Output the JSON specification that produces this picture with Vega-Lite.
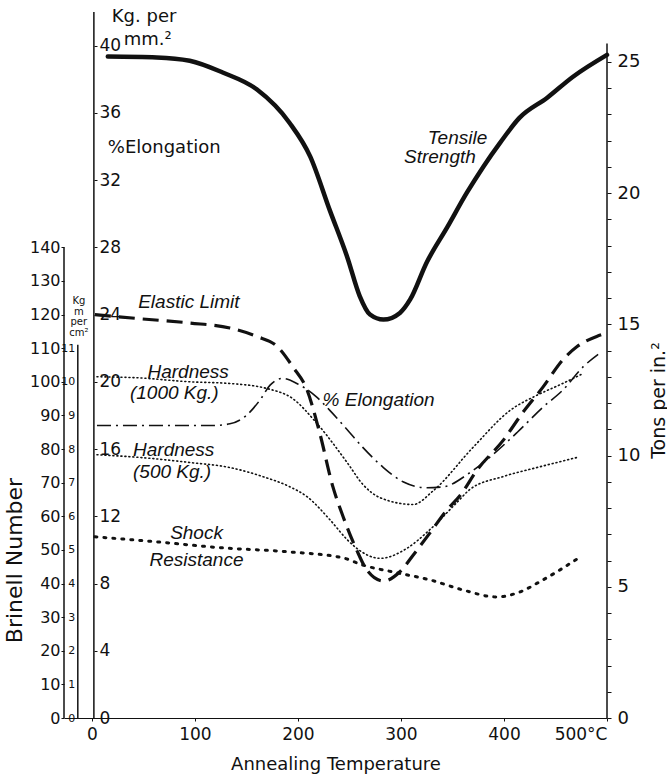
{
  "$schema": "https://vega.github.io/schema/vega-lite/v6.json",
  "width": 543,
  "height": 706,
  "autosize": {"type": "none"},
  "padding": {"left": 64, "top": 12, "right": 60, "bottom": 64},
  "background": "white",
  "config": {
    "view": {"stroke": null},
    "axis": {"grid": false, "domainColor": "#111", "tickColor": "#111", "labelColor": "#111", "titleColor": "#111", "labelFont": "DejaVu Sans", "titleFont": "DejaVu Sans", "titleFontWeight": "normal"},
    "line": {"color": "#111"},
    "rule": {"color": "#111"},
    "text": {"color": "#111"}
  },
  "datasets": {
    "curves": [
      {"series": "Tensile Strength", "t": 15.5, "v": 39.35},
      {"series": "Tensile Strength", "t": 63, "v": 39.3},
      {"series": "Tensile Strength", "t": 95, "v": 39.1},
      {"series": "Tensile Strength", "t": 127, "v": 38.4},
      {"series": "Tensile Strength", "t": 160, "v": 37.4},
      {"series": "Tensile Strength", "t": 192, "v": 35.4},
      {"series": "Tensile Strength", "t": 212, "v": 33.4},
      {"series": "Tensile Strength", "t": 231, "v": 30.2},
      {"series": "Tensile Strength", "t": 248, "v": 27.4},
      {"series": "Tensile Strength", "t": 260, "v": 25.1},
      {"series": "Tensile Strength", "t": 270, "v": 24.0},
      {"series": "Tensile Strength", "t": 283, "v": 23.7},
      {"series": "Tensile Strength", "t": 299, "v": 24.1},
      {"series": "Tensile Strength", "t": 309, "v": 24.9},
      {"series": "Tensile Strength", "t": 325, "v": 27.1},
      {"series": "Tensile Strength", "t": 345, "v": 29.2},
      {"series": "Tensile Strength", "t": 364, "v": 31.25},
      {"series": "Tensile Strength", "t": 380, "v": 32.8},
      {"series": "Tensile Strength", "t": 396, "v": 34.2},
      {"series": "Tensile Strength", "t": 415, "v": 35.7},
      {"series": "Tensile Strength", "t": 442, "v": 36.9},
      {"series": "Tensile Strength", "t": 467, "v": 38.15},
      {"series": "Tensile Strength", "t": 500, "v": 39.45},
      {"series": "Elastic Limit", "t": 3, "v": 24.0},
      {"series": "Elastic Limit", "t": 47, "v": 23.75},
      {"series": "Elastic Limit", "t": 95, "v": 23.5},
      {"series": "Elastic Limit", "t": 134, "v": 23.2},
      {"series": "Elastic Limit", "t": 160, "v": 22.7},
      {"series": "Elastic Limit", "t": 180, "v": 22.1},
      {"series": "Elastic Limit", "t": 195, "v": 20.9},
      {"series": "Elastic Limit", "t": 209, "v": 19.5},
      {"series": "Elastic Limit", "t": 221, "v": 17.0},
      {"series": "Elastic Limit", "t": 234, "v": 13.75},
      {"series": "Elastic Limit", "t": 244, "v": 11.96},
      {"series": "Elastic Limit", "t": 257, "v": 10.0},
      {"series": "Elastic Limit", "t": 267, "v": 8.8},
      {"series": "Elastic Limit", "t": 283, "v": 8.15},
      {"series": "Elastic Limit", "t": 299, "v": 8.7},
      {"series": "Elastic Limit", "t": 312, "v": 9.7},
      {"series": "Elastic Limit", "t": 328, "v": 11.0},
      {"series": "Elastic Limit", "t": 345, "v": 12.4},
      {"series": "Elastic Limit", "t": 357, "v": 13.2},
      {"series": "Elastic Limit", "t": 374, "v": 14.76},
      {"series": "Elastic Limit", "t": 399, "v": 16.5},
      {"series": "Elastic Limit", "t": 418, "v": 18.15},
      {"series": "Elastic Limit", "t": 438, "v": 19.7},
      {"series": "Elastic Limit", "t": 457, "v": 21.3},
      {"series": "Elastic Limit", "t": 471, "v": 22.1},
      {"series": "Elastic Limit", "t": 490, "v": 22.7},
      {"series": "Elastic Limit", "t": 500, "v": 22.9},
      {"series": "% Elongation", "t": 5, "v": 17.4},
      {"series": "% Elongation", "t": 117, "v": 17.4},
      {"series": "% Elongation", "t": 134, "v": 17.5},
      {"series": "% Elongation", "t": 150, "v": 18.0},
      {"series": "% Elongation", "t": 163, "v": 18.9},
      {"series": "% Elongation", "t": 173, "v": 19.8},
      {"series": "% Elongation", "t": 185, "v": 20.2},
      {"series": "% Elongation", "t": 199, "v": 19.9},
      {"series": "% Elongation", "t": 218, "v": 19.1},
      {"series": "% Elongation", "t": 231, "v": 18.3},
      {"series": "% Elongation", "t": 250, "v": 17.0},
      {"series": "% Elongation", "t": 263, "v": 16.1},
      {"series": "% Elongation", "t": 283, "v": 14.9},
      {"series": "% Elongation", "t": 302, "v": 14.05},
      {"series": "% Elongation", "t": 325, "v": 13.7},
      {"series": "% Elongation", "t": 341, "v": 13.75},
      {"series": "% Elongation", "t": 367, "v": 14.6},
      {"series": "% Elongation", "t": 386, "v": 15.5},
      {"series": "% Elongation", "t": 413, "v": 17.0},
      {"series": "% Elongation", "t": 438, "v": 18.5},
      {"series": "% Elongation", "t": 457, "v": 19.5},
      {"series": "% Elongation", "t": 477, "v": 20.9},
      {"series": "% Elongation", "t": 495, "v": 21.8}
    ],
    "hardness": [
      {"series": "Hardness (1000 Kg.)", "t": 5, "hb": 101.5},
      {"series": "Hardness (1000 Kg.)", "t": 44, "hb": 101.2},
      {"series": "Hardness (1000 Kg.)", "t": 95, "hb": 100},
      {"series": "Hardness (1000 Kg.)", "t": 134, "hb": 99.5},
      {"series": "Hardness (1000 Kg.)", "t": 170, "hb": 98},
      {"series": "Hardness (1000 Kg.)", "t": 195, "hb": 95},
      {"series": "Hardness (1000 Kg.)", "t": 218, "hb": 87.8},
      {"series": "Hardness (1000 Kg.)", "t": 248, "hb": 75.9},
      {"series": "Hardness (1000 Kg.)", "t": 263, "hb": 69.5},
      {"series": "Hardness (1000 Kg.)", "t": 280, "hb": 65.5},
      {"series": "Hardness (1000 Kg.)", "t": 312, "hb": 63.5},
      {"series": "Hardness (1000 Kg.)", "t": 331, "hb": 67.5},
      {"series": "Hardness (1000 Kg.)", "t": 370, "hb": 80.5},
      {"series": "Hardness (1000 Kg.)", "t": 406, "hb": 91.5},
      {"series": "Hardness (1000 Kg.)", "t": 432, "hb": 96},
      {"series": "Hardness (1000 Kg.)", "t": 457, "hb": 99.5},
      {"series": "Hardness (1000 Kg.)", "t": 477, "hb": 102.5},
      {"series": "Hardness (500 Kg.)", "t": 5, "hb": 78.3},
      {"series": "Hardness (500 Kg.)", "t": 47, "hb": 77.5},
      {"series": "Hardness (500 Kg.)", "t": 95, "hb": 76},
      {"series": "Hardness (500 Kg.)", "t": 134, "hb": 74.5},
      {"series": "Hardness (500 Kg.)", "t": 166, "hb": 71.8},
      {"series": "Hardness (500 Kg.)", "t": 192, "hb": 68.8},
      {"series": "Hardness (500 Kg.)", "t": 209, "hb": 65.8},
      {"series": "Hardness (500 Kg.)", "t": 231, "hb": 59},
      {"series": "Hardness (500 Kg.)", "t": 248, "hb": 53},
      {"series": "Hardness (500 Kg.)", "t": 257, "hb": 50.5},
      {"series": "Hardness (500 Kg.)", "t": 280, "hb": 47.5},
      {"series": "Hardness (500 Kg.)", "t": 306, "hb": 50.5},
      {"series": "Hardness (500 Kg.)", "t": 328, "hb": 56},
      {"series": "Hardness (500 Kg.)", "t": 354, "hb": 64},
      {"series": "Hardness (500 Kg.)", "t": 367, "hb": 68},
      {"series": "Hardness (500 Kg.)", "t": 399, "hb": 71.8},
      {"series": "Hardness (500 Kg.)", "t": 432, "hb": 74.5},
      {"series": "Hardness (500 Kg.)", "t": 471, "hb": 77.5}
    ],
    "shock": [
      {"t": 3, "kgm": 5.39},
      {"t": 63, "kgm": 5.24},
      {"t": 127, "kgm": 5.06},
      {"t": 192, "kgm": 4.94},
      {"t": 244, "kgm": 4.76},
      {"t": 263, "kgm": 4.55},
      {"t": 296, "kgm": 4.32},
      {"t": 328, "kgm": 4.11},
      {"t": 360, "kgm": 3.81},
      {"t": 393, "kgm": 3.6},
      {"t": 413, "kgm": 3.72},
      {"t": 438, "kgm": 4.11},
      {"t": 471, "kgm": 4.73}
    ],
    "italicLabels": [
      {"label": "Tensile", "t": 326, "v": 34.5},
      {"label": "Strength", "t": 303, "v": 33.4},
      {"label": "Elastic Limit", "t": 45, "v": 24.76},
      {"label": "Hardness", "t": 54, "v": 20.6},
      {"label": "(1000 Kg.)", "t": 37, "v": 19.35},
      {"label": "% Elongation", "t": 224, "v": 18.93},
      {"label": "Hardness", "t": 40, "v": 15.95},
      {"label": "(500 Kg.)", "t": 40, "v": 14.64},
      {"label": "Shock", "t": 76, "v": 11.0},
      {"label": "Resistance", "t": 56, "v": 9.4}
    ],
    "plainLabels": [
      {"label": "%Elongation", "t": 15.5, "v": 33.9},
      {"label": "Kg. per", "t": 19.4, "v": 41.7},
      {"label": "mm.²", "t": 31, "v": 40.36}
    ],
    "kgmLabels": [
      {"label": "Kg", "t": -12.6, "kgm": 12.41},
      {"label": "m", "t": -12.6, "kgm": 12.08},
      {"label": "per", "t": -12.6, "kgm": 11.79},
      {"label": "cm²", "t": -12.6, "kgm": 11.46}
    ]
  },
  "encoding": {
    "x": {"field": "t", "type": "quantitative", "scale": {"domain": [-27, 500], "nice": false, "zero": false},
      "axis": {"values": [0, 100, 200, 300, 400, 500], "labelExpr": "datum.value == 500 ? '500°C' : datum.label", "labelFontSize": 17, "tickSize": 3, "labelPadding": 5, "title": "Annealing Temperature", "titleFontSize": 18, "titlePadding": 13}}
  },
  "layer": [
    {
      "data": {"name": "curves"},
      "transform": [{"filter": "datum.series == 'Tensile Strength'"}],
      "mark": {"type": "line", "strokeWidth": 4.5, "interpolate": "monotone", "strokeCap": "round"},
      "encoding": {
        "y": {"field": "v", "type": "quantitative", "scale": {"domain": [0, 42], "nice": false},
          "axis": {"orient": "right", "offset": -513, "values": [0, 4, 8, 12, 16, 20, 24, 28, 32, 36, 40], "domain": false, "tickSize": 3, "labelPadding": 2, "labelFontSize": 17, "title": null}}
      }
    },
    {
      "data": {"name": "curves"},
      "transform": [{"filter": "datum.series == 'Elastic Limit'"}],
      "mark": {"type": "line", "strokeWidth": 3.2, "interpolate": "monotone", "strokeDash": [16, 8]},
      "encoding": {
        "y": {"field": "v", "type": "quantitative", "scale": {"domain": [0, 42], "nice": false}, "axis": null}
      }
    },
    {
      "data": {"name": "curves"},
      "transform": [{"filter": "datum.series == '% Elongation'"}],
      "mark": {"type": "line", "strokeWidth": 1.6, "interpolate": "monotone", "strokeDash": [14, 5, 2, 5]},
      "encoding": {
        "y": {"field": "v", "type": "quantitative", "scale": {"domain": [0, 42], "nice": false}, "axis": null}
      }
    },
    {
      "data": {"values": [{"t": 2, "lo": 0, "hi": 42}]},
      "mark": {"type": "rule", "strokeWidth": 1.5},
      "encoding": {
        "y": {"field": "lo", "type": "quantitative", "scale": {"domain": [0, 42], "nice": false}, "axis": null},
        "y2": {"field": "hi"}
      }
    },
    {
      "data": {"name": "italicLabels"},
      "mark": {"type": "text", "font": "Liberation Sans", "fontStyle": "italic", "fontSize": 19, "align": "left", "baseline": "middle"},
      "encoding": {
        "y": {"field": "v", "type": "quantitative", "scale": {"domain": [0, 42], "nice": false}, "axis": null},
        "text": {"field": "label"}
      }
    },
    {
      "data": {"name": "plainLabels"},
      "mark": {"type": "text", "font": "DejaVu Sans", "fontSize": 18, "align": "left", "baseline": "middle"},
      "encoding": {
        "y": {"field": "v", "type": "quantitative", "scale": {"domain": [0, 42], "nice": false}, "axis": null},
        "text": {"field": "label"}
      }
    },
    {
      "data": {"name": "hardness"},
      "transform": [{"filter": "datum.series == 'Hardness (1000 Kg.)'"}],
      "mark": {"type": "line", "strokeWidth": 1.6, "interpolate": "monotone", "strokeDash": [1, 3], "strokeCap": "round"},
      "encoding": {
        "y": {"field": "hb", "type": "quantitative", "scale": {"domain": [0, 210], "nice": false},
          "axis": {"orient": "left", "offset": 0, "values": [0, 10, 20, 30, 40, 50, 60, 70, 80, 90, 100, 110, 120, 130, 140], "domain": false, "tickSize": 3, "labelPadding": 1, "labelFontSize": 16, "title": "Brinell Number", "titleFontSize": 22, "titleAngle": 270, "titleX": -43, "titleY": 548, "titleBaseline": "alphabetic", "titleAlign": "center"}}
      }
    },
    {
      "data": {"name": "hardness"},
      "transform": [{"filter": "datum.series == 'Hardness (500 Kg.)'"}],
      "mark": {"type": "line", "strokeWidth": 1.6, "interpolate": "monotone", "strokeDash": [1, 3], "strokeCap": "round"},
      "encoding": {
        "y": {"field": "hb", "type": "quantitative", "scale": {"domain": [0, 210], "nice": false}, "axis": null}
      }
    },
    {
      "data": {"values": [{"t": -27, "lo": 0, "hi": 140}]},
      "mark": {"type": "rule", "strokeWidth": 1.5},
      "encoding": {
        "y": {"field": "lo", "type": "quantitative", "scale": {"domain": [0, 210], "nice": false}, "axis": null},
        "y2": {"field": "hi"}
      }
    },
    {
      "data": {"name": "shock"},
      "mark": {"type": "line", "strokeWidth": 3, "interpolate": "monotone", "strokeDash": [2, 7], "strokeCap": "round"},
      "encoding": {
        "y": {"field": "kgm", "type": "quantitative", "scale": {"domain": [0, 21], "nice": false},
          "axis": {"orient": "left", "offset": -13.8, "values": [0, 1, 2, 3, 4, 5, 6, 7, 8, 9, 10, 11], "domain": false, "ticks": false, "labelPadding": 3, "labelFontSize": 11, "title": null}}
      }
    },
    {
      "data": {"values": [{"t": -13.6, "lo": 0, "hi": 11.1}]},
      "mark": {"type": "rule", "strokeWidth": 1.5},
      "encoding": {
        "y": {"field": "lo", "type": "quantitative", "scale": {"domain": [0, 21], "nice": false}, "axis": null},
        "y2": {"field": "hi"}
      }
    },
    {
      "data": {"name": "kgmLabels"},
      "mark": {"type": "text", "font": "DejaVu Sans", "fontSize": 10, "align": "center", "baseline": "middle"},
      "encoding": {
        "y": {"field": "kgm", "type": "quantitative", "scale": {"domain": [0, 21], "nice": false}, "axis": null},
        "text": {"field": "label"}
      }
    },
    {
      "data": {"values": [{"t": 500, "lo": 0, "hi": 25.7}]},
      "mark": {"type": "rule", "strokeWidth": 1.5},
      "encoding": {
        "y": {"field": "lo", "type": "quantitative", "scale": {"domain": [0, 26.9], "nice": false},
          "axis": {"orient": "right", "values": [0, 1, 2, 3, 4, 5, 6, 7, 8, 9, 10, 11, 12, 13, 14, 15, 16, 17, 18, 19, 20, 21, 22, 23, 24, 25], "labelExpr": "datum.value % 5 == 0 ? datum.label : ''", "domain": false, "tickSize": 4, "labelPadding": 6, "labelFontSize": 18, "title": "Tons per in.²", "titleFontSize": 19, "titleAngle": 270, "titleX": 57, "titleY": 388, "titleBaseline": "alphabetic", "titleAlign": "center"}},
        "y2": {"field": "hi"}
      }
    }
  ],
  "resolve": {"scale": {"y": "independent"}, "axis": {"y": "independent"}}
}
